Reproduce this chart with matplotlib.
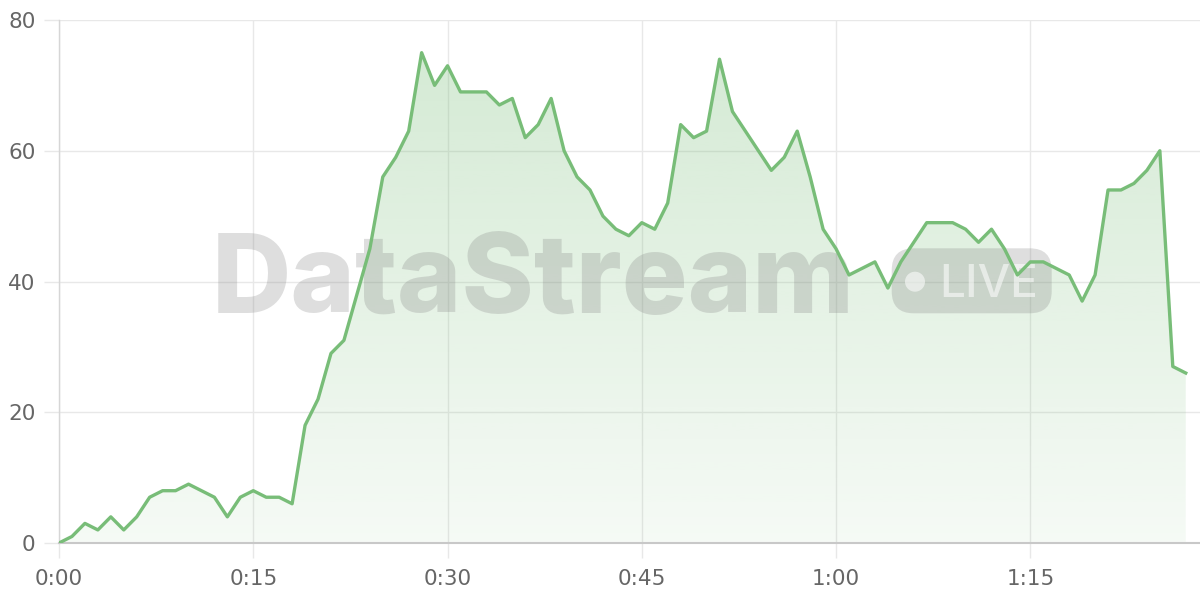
import matplotlib
matplotlib.use("Agg")
import matplotlib.pyplot as plt
import numpy as np
from matplotlib.patches import FancyBboxPatch, Circle

# viewers per minute
minutes = list(range(88))
viewers = [0, 1, 3, 2, 4, 2, 4, 7, 8, 8,
           9, 8, 7, 4, 7, 8, 7, 7, 6, 18,
           22, 29, 31, 38, 45, 56, 59, 63, 75, 70,
           73, 69, 69, 69, 67, 68, 62, 64, 68, 60,
           56, 54, 50, 48, 47, 49, 48, 52, 64, 62,
           63, 74, 66, 63, 60, 57, 59, 63, 56, 48,
           45, 41, 42, 43, 39, 43, 46, 49, 49, 49,
           48, 46, 48, 45, 41, 43, 43, 42, 41, 37,
           41, 54, 54, 55, 57, 60, 27, 26]
xticks = [0, 15, 30, 45, 60, 75]
yticks = [0, 20, 40, 60, 80]

green = "#78bd78"
grid_c = "#e8e8e8"
label_c = "#666666"

fig = plt.figure(figsize=(12, 6), dpi=100)
ax = fig.add_axes([59/1200, 57/600, 1141/1200, 523/600])

# gradient fill under the line
poly = ax.fill_between(minutes, viewers, 0, facecolor="none", edgecolor="none")
path = poly.get_paths()[0]
grad = np.zeros((256, 1, 4))
grad[:, 0, 0:3] = matplotlib.colors.to_rgb(green)
grad[:, 0, 3] = np.linspace(0.33, 0.07, 256)  # row 0 = top
im = ax.imshow(grad, extent=[0, 88.1, 0, 80], origin="upper", aspect="auto",
               zorder=1, interpolation="bilinear")
im.set_clip_path(path, transform=ax.transData)
ax.set_xlim(0, 88.1)
ax.set_ylim(0, 80)

ax.plot(minutes, viewers, color=green, lw=2.4, zorder=4)

# watermark
wm = "#808080"
ax.text(2.12, 2.87, "DataStream", transform=fig.dpi_scale_trans, family="Inter",
        fontweight="heavy", fontsize=79, color=wm, alpha=0.26, ha="left",
        va="baseline", zorder=2, clip_on=False)
pill = FancyBboxPatch((8.917, 2.867), 1.6, 0.65,
                      boxstyle="round,pad=0,rounding_size=0.22",
                      transform=fig.dpi_scale_trans, facecolor=wm, edgecolor="none",
                      alpha=0.26, zorder=2, clip_on=False)
ax.add_patch(pill)
ax.add_patch(Circle((9.15, 3.183), 0.1, transform=fig.dpi_scale_trans,
                    facecolor="white", edgecolor="none", alpha=0.55, zorder=3,
                    clip_on=False))
ax.text(9.39, 3.033, "LIVE", transform=fig.dpi_scale_trans, family="Inter",
        fontweight="medium", fontsize=33, color="white", alpha=0.55, ha="left",
        va="baseline", zorder=3, clip_on=False)

ax.set_xticks(xticks)
ax.set_xticklabels(["%d:%02d" % (m // 60, m % 60) for m in xticks])
ax.set_yticks(yticks)
ax.grid(True, color=grid_c, lw=1)
ax.set_axisbelow(True)
ax.tick_params(axis="both", length=11, width=1, color=grid_c,
               labelsize=15.5, labelcolor=label_c)
ax.tick_params(axis="x", pad=8)
ax.tick_params(axis="y", pad=6)
for s in ["top", "right"]:
    ax.spines[s].set_visible(False)
ax.spines["left"].set_color("#d6d6d6")
ax.spines["left"].set_linewidth(1)
ax.spines["bottom"].set_color("#c8c8c8")
ax.spines["bottom"].set_linewidth(1.5)

fig.savefig("out.png", dpi=100)
